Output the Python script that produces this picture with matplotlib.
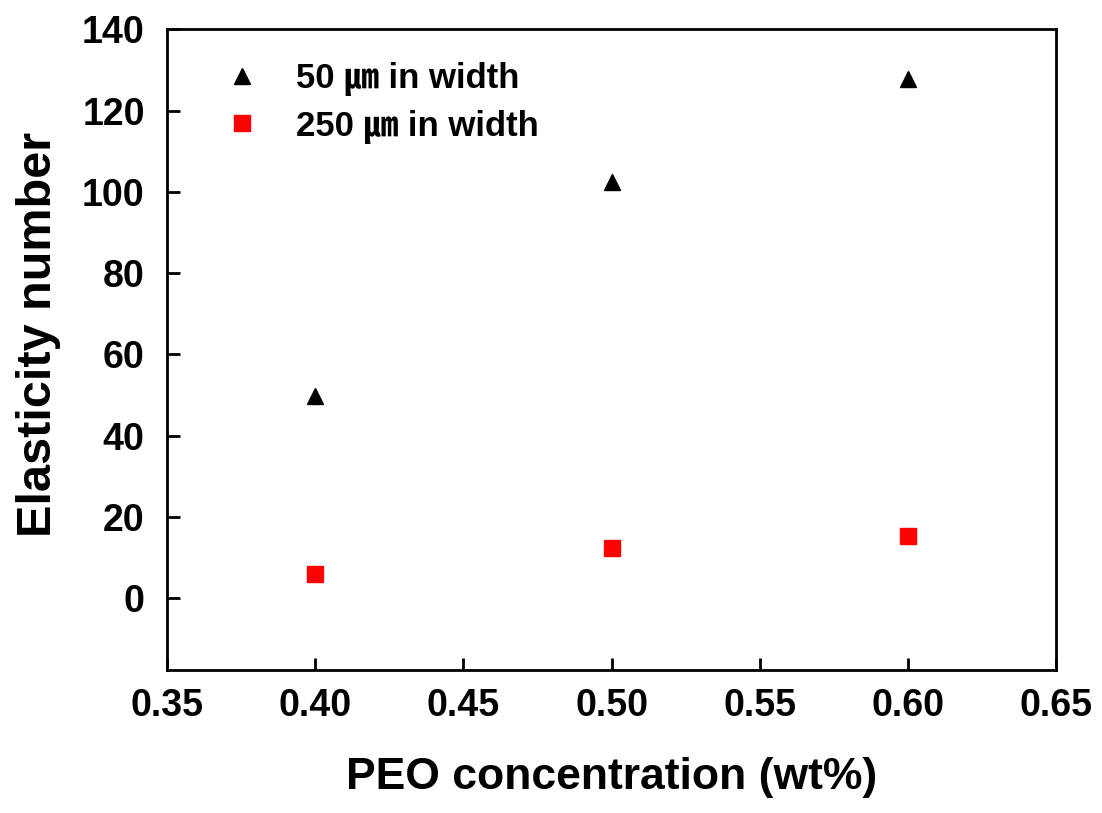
import matplotlib
matplotlib.use("Agg")
import matplotlib.pyplot as plt

plt.rcParams['font.family'] = ['Liberation Sans', 'Noto Sans CJK KR', 'DejaVu Sans']
plt.rcParams['font.weight'] = 'bold'

peo = [0.40, 0.50, 0.60]
el_50 = [49.8, 102.3, 127.8]
el_250 = [6.0, 12.2, 15.2]

fig = plt.figure(figsize=(11.02, 8.13), dpi=100)
ax = fig.add_axes([0.1515, 0.176, 0.807, 0.788])

ax.plot(peo, el_50, linestyle='none', marker='^', color='black', markersize=12,
        label='50 \u339b in width')
ax.plot(peo, el_250, linestyle='none', marker='s', color='red', markersize=11,
        label='250 \u339b in width')

ax.set_xlim(0.35, 0.65)
ax.set_ylim(-17.7, 140)
ax.set_xticks([0.35, 0.40, 0.45, 0.50, 0.55, 0.60, 0.65])
ax.set_xticklabels(['0.35', '0.40', '0.45', '0.50', '0.55', '0.60', '0.65'])
ax.set_yticks(range(0, 141, 20))

for s in ax.spines.values():
    s.set_linewidth(2)
ax.tick_params(direction='in', length=9, width=2, labelsize=27, pad=16)
ax.tick_params(axis='x', pad=13)

ax.set_xlabel('PEO concentration (wt%)', fontsize=32, fontweight='bold', labelpad=24)
ax.set_ylabel('Elasticity number', fontsize=35, fontweight='bold')
ax.yaxis.set_label_coords(-0.119, 0.523)

ax.legend(loc='upper left', bbox_to_anchor=(0.02, 0.997), frameon=False, fontsize=25,
          handletextpad=0.8, labelspacing=0.38, handlelength=1.5)

fig.savefig('out.png', dpi=100)
